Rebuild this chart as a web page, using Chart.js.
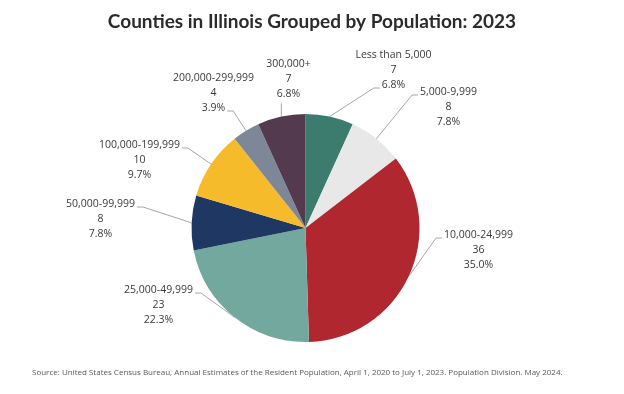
<!DOCTYPE html>
<html lang="en">
<head>
<meta charset="UTF-8">
<title>Counties in Illinois Grouped by Population: 2023</title>
<script src="https://cdn.jsdelivr.net/npm/chart.js"></script>
<style>
  html, body { margin: 0; padding: 0; background: #fff; }
  #wrap { width: 624px; height: 394px; position: relative; }
</style>
</head>
<body>
<div id="wrap"><canvas id="pieCanvas"></canvas></div>
<script>
const chartTitle = 'Counties in Illinois Grouped by Population: 2023';
const sourceNote = 'Source: United States Census Bureau, Annual Estimates of the Resident Population, April 1, 2020 to July 1, 2023. Population Division. May 2024.';
const categories = ['Less than 5,000', '5,000-9,999', '10,000-24,999', '25,000-49,999',
                    '50,000-99,999', '100,000-199,999', '200,000-299,999', '300,000+'];
const counties = [7, 8, 36, 23, 8, 10, 4, 7];
const sliceColors = ['#3b7c6f', '#e8e8e8', '#b0272f', '#73a89f', '#1f3763', '#f5bb2b', '#7d8798', '#533a4e'];

// where each label block sits, relative to pie centre, and which side the leader joins
const labelOffsets = [[88, -158], [143, -121], [173, 22], [-147, 77], [-205, -9], [-166, -68], [-92, -135], [-17, -149]];
const labelAttach = ['last', 'first', 'first', 'first', 'first', 'first', 'last', 'bottom'];

const total = counties.reduce((a, b) => a + b, 0);

const labelPlugin = {
    id: 'leaderLabels',
    afterDatasetsDraw(chart) {
        const ctx = chart.ctx;
        const arcs = chart.getDatasetMeta(0).data;
        const lineH = 15;
        ctx.save();
        ctx.font = '10.5px "Open Sans"';
        ctx.textAlign = 'center';
        ctx.textBaseline = 'middle';
        arcs.forEach((arc, i) => {
            const mid = (arc.startAngle + arc.endAngle) / 2;
            const ex = arc.x + Math.cos(mid) * arc.outerRadius;
            const ey = arc.y + Math.sin(mid) * arc.outerRadius;
            const cx = arc.x + labelOffsets[i][0];
            const cy = arc.y + labelOffsets[i][1];
            const lines = [categories[i], String(counties[i]), (counties[i] / total * 100).toFixed(1) + '%'];

            // leader line
            let pts;
            if (labelAttach[i] === 'bottom') {
                pts = [[ex, ey], [ex, cy + lineH * 1.5 + 2]];
            } else {
                const li = labelAttach[i] === 'first' ? 0 : 2;
                const w = ctx.measureText(lines[li]).width;
                const ly = cy + (li - 1) * lineH + 3;
                const right = cx > ex;
                const ax = right ? cx - w / 2 - 2 : cx + w / 2 + 2;
                const bx = right ? ax - 6 : ax + 6;
                pts = [[ex, ey], [bx, ly], [ax, ly]];
            }
            ctx.strokeStyle = '#a6a6a6';
            ctx.lineWidth = 1;
            ctx.beginPath();
            pts.forEach((p, k) => k ? ctx.lineTo(p[0], p[1]) : ctx.moveTo(p[0], p[1]));
            ctx.stroke();

            ctx.fillStyle = '#3a3a3a';
            lines.forEach((t, k) => ctx.fillText(t, cx, cy + (k - 1) * lineH));
        });

        // title and source
        ctx.fillStyle = '#2b2b2b';
        ctx.font = 'bold 19px Lato';
        ctx.textBaseline = 'alphabetic';
        ctx.fillText(chartTitle, 312, 28);
        ctx.fillStyle = '#595959';
        ctx.font = '8px "Open Sans"';
        ctx.textAlign = 'left';
        ctx.fillText(sourceNote, 32, 375);
        ctx.restore();
    }
};

new Chart(document.getElementById('pieCanvas'), {
    type: 'pie',
    data: {
        labels: categories,
        datasets: [{
            data: counties,
            backgroundColor: sliceColors,
            borderWidth: 0
        }]
    },
    options: {
        responsive: true,
        maintainAspectRatio: false,
        animation: false,
        layout: { padding: { top: 114, bottom: 52, left: 0, right: 13 } },
        plugins: {
            legend: { display: false },
            tooltip: { enabled: false }
        }
    },
    plugins: [labelPlugin]
});
</script>
</body>
</html>
